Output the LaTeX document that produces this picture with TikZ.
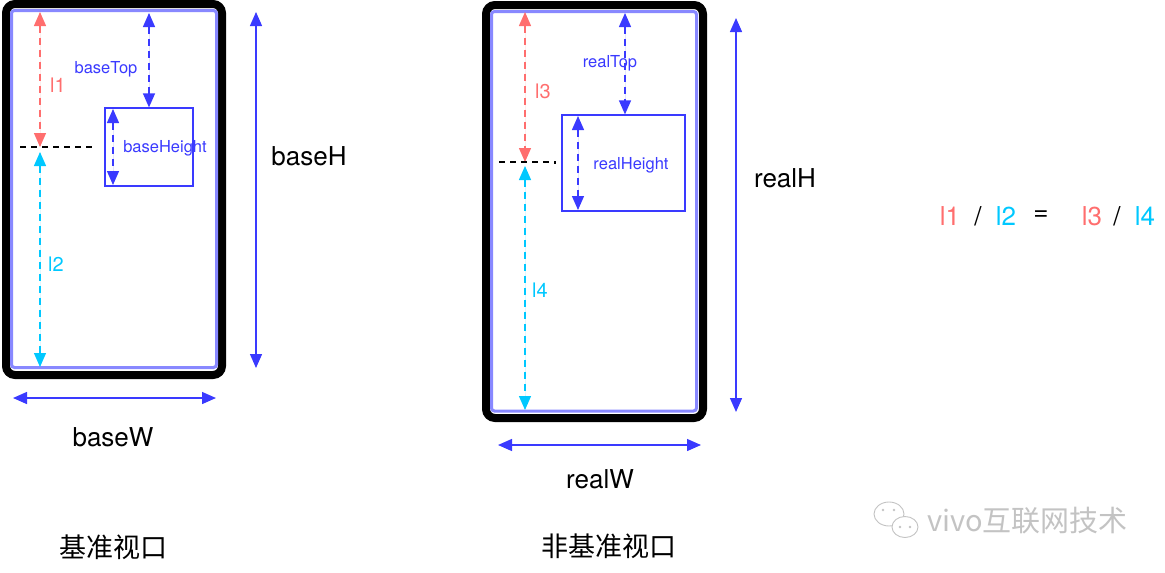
\documentclass[tikz,border=0pt]{standalone}
\usepackage{fontspec}
\setmainfont{TeX Gyre Heros}
\newfontfamily\cjk{Noto Sans CJK SC}
\usetikzlibrary{arrows.meta}
\definecolor{cred}{RGB}{255,110,110}
\definecolor{ccyan}{RGB}{0,200,255}
\definecolor{cblue}{RGB}{58,58,255}
\definecolor{clav}{RGB}{136,136,255}
\definecolor{cwm}{RGB}{195,195,195}
\tikzset{
  phone/.style={draw=black,line width=8pt,rounded corners=9pt},
  screen/.style={draw=clav,line width=3pt,rounded corners=3pt},
  dim/.style={line width=1.3pt,dash pattern=on 7pt off 5pt,{Triangle[length=14pt,width=12pt]}-{Triangle[length=14pt,width=12pt]}},
  soliddim/.style={draw=cblue,line width=1.4pt,{Triangle[length=14pt,width=12pt]}-{Triangle[length=14pt,width=12pt]}},
  guide/.style={draw=black,line width=1.2pt,dash pattern=on 6pt off 5pt},
  box/.style={draw=cblue,line width=1.2pt},
  small/.style={font=\fontsize{16.5}{19}\selectfont,inner sep=0pt},
  mid/.style={font=\fontsize{20}{23}\selectfont,inner sep=0pt},
  big/.style={font=\fontsize{26}{30}\selectfont,inner sep=0pt},
  cn/.style={font=\cjk\fontsize{27}{31}\selectfont,inner sep=0pt}
}
\begin{document}
\begin{tikzpicture}[x=1pt,y=-1pt]
\useasboundingbox (0,0) rectangle (1165,573);
% ---------- left phone ----------
\draw[phone] (6,4) rectangle (222,375);
\draw[screen] (11.5,10.5) rectangle (216.5,367.5);
\coordinate (l1a) at (40,12); \coordinate (l1b) at (40,147);
\coordinate (l2a) at (40,152); \coordinate (l2b) at (40,367);
\draw[dim,draw=cred,fill=cred] (l1a) -- (l1b);
\draw[dim,draw=ccyan,fill=ccyan] (l2a) -- (l2b);
\coordinate (g1a) at (20,147); \coordinate (g1b) at (91,147);
\draw[guide] (g1a) -- (g1b) -- ++(0,2);
\node[box,minimum width=88pt,minimum height=78pt,inner sep=0pt] (bbox) at (149,147) {};
\coordinate (btA) at (149,13);
\draw[dim,draw=cblue,fill=cblue] (btA) -- (bbox.north);
\coordinate (bhA) at (113,109); \coordinate (bhB) at (113,185);
\draw[dim,draw=cblue,fill=cblue] (bhA) -- (bhB);
\node[small,text=cblue] (tBaseTop) at (106,69) {baseTop};
\node[small,text=cblue] (tBaseHeight) at (165,148) {baseHeight};
\node[mid,text=cred] (tl1) at (58,85) {l1};
\node[mid,text=ccyan] (tl2) at (56,264) {l2};
\coordinate (bHa) at (256,12); \coordinate (bHb) at (256,368);
\draw[soliddim] (bHa) -- (bHb);
\node[big] (tBaseH) at (309,156) {baseH};
\coordinate (bWa) at (13,398); \coordinate (bWb) at (216,398);
\draw[soliddim] (bWa) -- (bWb);
\node[big] (tBaseW) at (113,437) {baseW};
\node[cn] (tBase) at (113,547) {基准视口};
% ---------- right phone ----------
\draw[phone] (486,5) rectangle (703,418);
\draw[screen] (491.5,11.5) rectangle (696.5,411);
\coordinate (l3a) at (525,12); \coordinate (l3b) at (525,162);
\coordinate (l4a) at (525,166); \coordinate (l4b) at (525,410);
\draw[dim,draw=cred,fill=cred] (l3a) -- (l3b);
\draw[dim,draw=ccyan,fill=ccyan] (l4a) -- (l4b);
\coordinate (g2a) at (499,162); \coordinate (g2b) at (555,162);
\draw[guide] (g2a) -- (g2b) -- ++(0,2);
\node[box,minimum width=123pt,minimum height=96pt,inner sep=0pt] (rbox) at (623.5,163) {};
\coordinate (rtA) at (625,13);
\draw[dim,draw=cblue,fill=cblue] (rtA) -- (rbox.north -| rtA);
\coordinate (rhA) at (578,116); \coordinate (rhB) at (578,210);
\draw[dim,draw=cblue,fill=cblue] (rhA) -- (rhB);
\node[small,text=cblue] (tRealTop) at (610,63) {realTop};
\node[small,text=cblue] (tRealHeight) at (631,165) {realHeight};
\node[mid,text=cred] (tl3) at (543,91) {l3};
\node[mid,text=ccyan] (tl4) at (540,290) {l4};
\coordinate (rHa) at (736,18); \coordinate (rHb) at (736,412);
\draw[soliddim] (rHa) -- (rHb);
\node[big] (tRealH) at (785,178) {realH};
\coordinate (rWa) at (498,445); \coordinate (rWb) at (701,445);
\draw[soliddim] (rWa) -- (rWb);
\node[big] (tRealW) at (600,479) {realW};
\node[cn] (tReal) at (609,546) {非基准视口};
% ---------- formula ----------
\node[big,text=cred] (f1) at (950,216) {l1};
\node[big] (fs1) at (978,216) {/};
\node[big,text=ccyan] (f2) at (1006,216) {l2};
\node[big] (feq) at (1041,216) {=};
\node[big,text=cred] (f3) at (1092,216) {l3};
\node[big] (fs2) at (1117,216) {/};
\node[big,text=ccyan] (f4) at (1145,216) {l4};
% ---------- watermark ----------
\draw[cwm,line width=0.9pt] (889,514) ellipse (15pt and 12pt);
\draw[cwm,line width=0.9pt,fill=white] (905,527) ellipse (13pt and 10.5pt);
\foreach \p in {(883,510),(894,510),(900,527),(910,527)} \fill[cwm] \p circle (1.4pt);
\node[font=\cjk\fontsize{29}{33}\selectfont,text=cwm,inner sep=0pt,anchor=west] (wm) at (927,521) {vivo互联网技术};
\end{tikzpicture}
\end{document}
